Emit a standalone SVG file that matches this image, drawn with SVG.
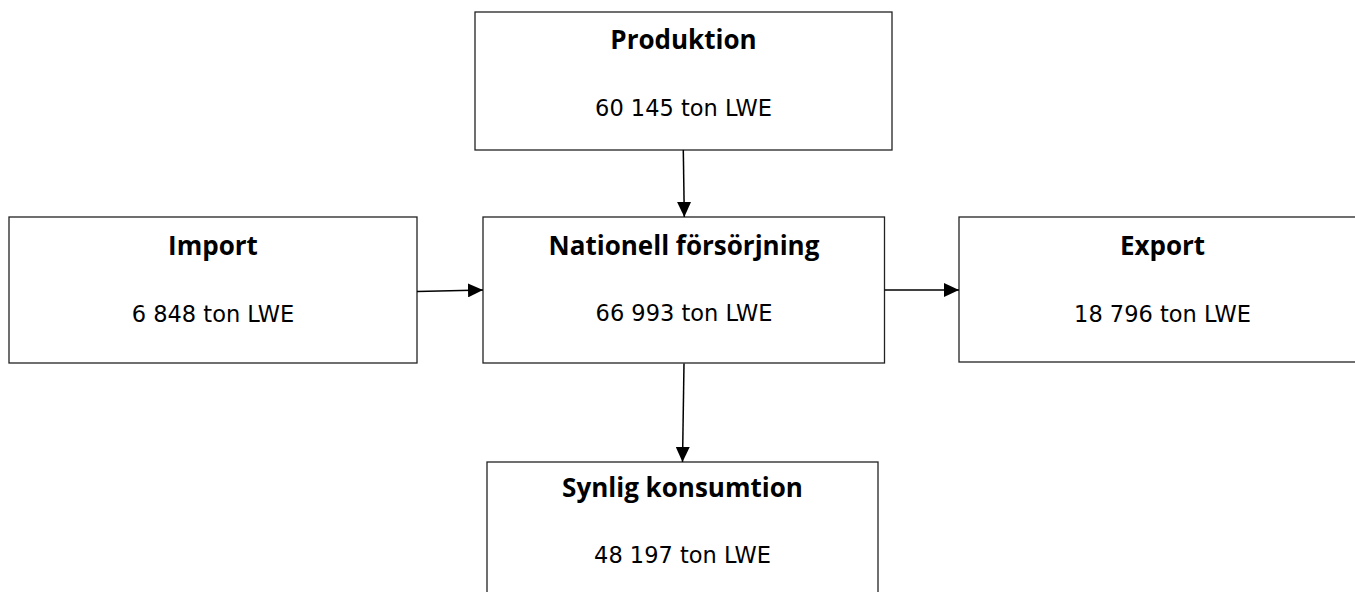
<svg xmlns="http://www.w3.org/2000/svg" width="1355" height="592" viewBox="0 0 1355 592">
<style>
.box{fill:#fff;stroke:#222;stroke-width:1.3}
.t{font-family:"Open Sans","DejaVu Sans",sans-serif;font-weight:bold;font-size:26px;fill:#000;text-anchor:middle}
.v{font-family:"DejaVu Sans",sans-serif;font-size:22.5px;fill:#000;text-anchor:middle}
.c{stroke:#000;stroke-width:1.5;fill:none;marker-end:url(#ah)}
</style>
<defs>
<marker id="ah" viewBox="0 0 15 14" refX="15" refY="7" markerWidth="15" markerHeight="14" markerUnits="userSpaceOnUse" orient="auto">
<path d="M0,0 L15,7 L0,14 Z" fill="#000"/>
</marker>
</defs>
<rect width="1355" height="592" fill="#fff"/>
<g id="produktion">
<rect class="box" x="475" y="12" width="417" height="138"/>
<text class="t" x="683.5" y="49">Produktion</text>
<text class="v" x="683.5" y="115.5">60 145 ton LWE</text>
</g>
<g id="import">
<rect class="box" x="9" y="217" width="408" height="146"/>
<text class="t" x="213" y="255">Import</text>
<text class="v" x="213" y="321.5">6 848 ton LWE</text>
</g>
<g id="nationell">
<rect class="box" x="483" y="217" width="401.5" height="146"/>
<text class="t" x="684" y="254.5">Nationell försörjning</text>
<text class="v" x="684" y="320.5">66 993 ton LWE</text>
</g>
<g id="export">
<rect class="box" x="959" y="217" width="407" height="145"/>
<text class="t" x="1162.5" y="255">Export</text>
<text class="v" x="1162.5" y="321.5">18 796 ton LWE</text>
</g>
<g id="synlig">
<rect class="box" x="487" y="462" width="391" height="140"/>
<text class="t" x="682.5" y="497">Synlig konsumtion</text>
<text class="v" x="682.5" y="563">48 197 ton LWE</text>
</g>
<g id="connectors">
<line class="c" x1="683.3" y1="150" x2="684.3" y2="217"/>
<line class="c" x1="417" y1="291.5" x2="483" y2="290"/>
<line class="c" x1="884.5" y1="290" x2="959" y2="290"/>
<line class="c" x1="684" y1="363.5" x2="682.5" y2="462"/>
</g>
</svg>
